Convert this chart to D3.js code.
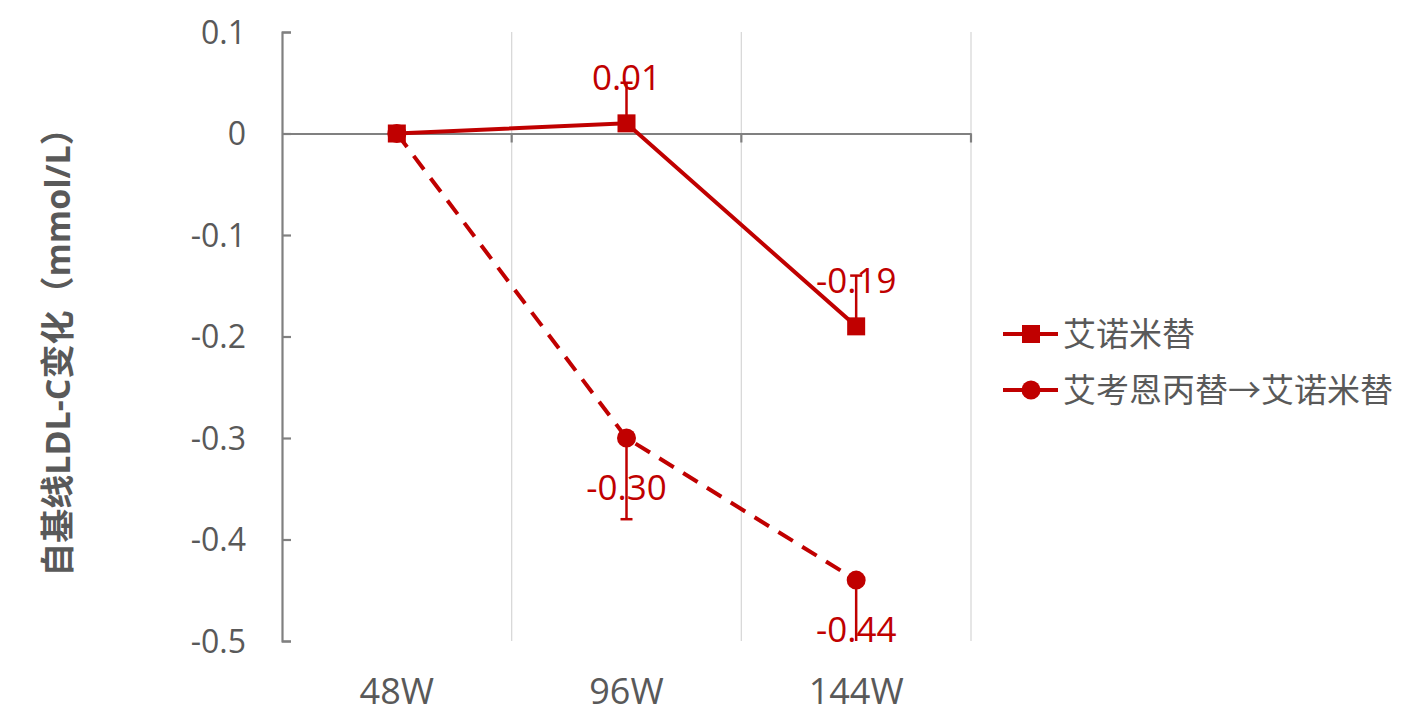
<!DOCTYPE html>
<html><head><meta charset="utf-8">
<script src="https://cdn.jsdelivr.net/npm/d3@7"></script>
<style>body{margin:0;background:#fff;} svg{display:block;}</style>
</head><body>
<svg id="c" width="1418" height="723"></svg>
<script>
const categories = ["48W", "96W", "144W"];
const seriesNames = ["艾诺米替", "艾考恩丙替→艾诺米替"];
const seriesA = [0, 0.01, -0.19];
const seriesB = [0, -0.30, -0.44];
const errA = [null, 0.04, 0.05];   // plus direction
const errB = [null, 0.08, 0.07];   // minus direction
const labelsA = [null, "0.01", "-0.19"];
const labelsB = [null, "-0.30", "-0.44"];
const yTicks = [0.1, 0, -0.1, -0.2, -0.3, -0.4, -0.5];
const yTickLabels = ["0.1", "0", "-0.1", "-0.2", "-0.3", "-0.4", "-0.5"];
const yTitle = "自基线LDL-C变化（mmol/L）";

const svg = d3.select("#c");
const red = "#C00000", gray = "#595959", axisC = "#808080";
const font = "'Open Sans','Noto Sans CJK SC',sans-serif";
const L = 282, R = 971, T = 32, B = 641;
const x = d3.scaleBand().domain(categories).range([L, R]);
const y = d3.scaleLinear().domain([-0.5, 0.1]).range([B, T]);
const cx = c => x(c) + x.bandwidth() / 2;

// vertical gridlines
svg.append("g").selectAll("line").data(categories).join("line")
  .attr("x1", c => x(c) + x.bandwidth()).attr("x2", c => x(c) + x.bandwidth())
  .attr("y1", T).attr("y2", B).attr("stroke", "#d9d9d9").attr("stroke-width", 1.3);

// y axis
const yAxis = d3.axisRight(y).tickValues(yTicks).tickSize(9).tickFormat("");
const ya = svg.append("g").attr("transform", `translate(${L},0)`).call(yAxis);
ya.select(".domain").attr("stroke", axisC).attr("stroke-width", 2.2);
ya.selectAll(".tick line").attr("stroke", axisC).attr("stroke-width", 2.2);
svg.append("g").selectAll("text").data(yTicks).join("text")
  .attr("x", 246).attr("y", d => y(d)).attr("dy", "0.36em")
  .attr("text-anchor", "end").attr("fill", gray)
  .style("font-family", font).style("font-size", "32px")
  .text((d, i) => yTickLabels[i]);

// x axis along y=0
const xa = svg.append("g").attr("transform", `translate(0,${y(0)})`)
  .call(d3.axisBottom(x).tickSize(0).tickFormat(""));
xa.select(".domain").attr("stroke", axisC).attr("stroke-width", 2.2);
svg.append("g").selectAll("line").data(categories).join("line")
  .attr("x1", c => x(c) + x.bandwidth()).attr("x2", c => x(c) + x.bandwidth())
  .attr("y1", y(0)).attr("y2", y(0) + 9).attr("stroke", axisC).attr("stroke-width", 2.2);
svg.append("g").selectAll("text").data(categories).join("text")
  .attr("x", c => cx(c)).attr("y", 691).attr("dy", "0.36em")
  .attr("text-anchor", "middle").attr("fill", gray)
  .style("font-family", font).style("font-size", "36px").text(c => c);

// y title
svg.append("text").attr("transform", `translate(58,344) rotate(-90)`)
  .attr("text-anchor", "middle").attr("dy", "0.36em").attr("fill", gray)
  .style("font-family", font).style("font-size", "34px").style("font-weight", "bold")
  .text(yTitle);

const line = d3.line().x((d, i) => cx(categories[i])).y(d => y(d));

// error bars
function errBars(vals, errs, dir) {
  const g = svg.append("g");
  vals.forEach((v, i) => {
    if (errs[i] == null) return;
    const e = Math.max(y.domain()[0], v + dir * errs[i]);
    const xx = cx(categories[i]);
    g.append("line").attr("x1", xx).attr("x2", xx).attr("y1", y(v)).attr("y2", y(e))
      .attr("stroke", red).attr("stroke-width", 2.5);
    if (v + dir * errs[i] >= y.domain()[0])
      g.append("line").attr("x1", xx - 6).attr("x2", xx + 6).attr("y1", y(e)).attr("y2", y(e))
        .attr("stroke", red).attr("stroke-width", 2.5);
  });
}

// series B (dashed, circles)
svg.append("path").datum(seriesB).attr("d", line).attr("fill", "none")
  .attr("stroke", red).attr("stroke-width", 4).attr("stroke-dasharray", "17,11");
errBars(seriesB, errB, -1);
svg.append("g").selectAll("circle").data(seriesB).join("circle")
  .attr("cx", (d, i) => cx(categories[i])).attr("cy", d => y(d)).attr("r", 9.5).attr("fill", red);

// series A (solid, squares)
svg.append("path").datum(seriesA).attr("d", line).attr("fill", "none")
  .attr("stroke", red).attr("stroke-width", 4);
errBars(seriesA, errA, 1);
svg.append("g").selectAll("rect").data(seriesA).join("rect")
  .attr("x", (d, i) => cx(categories[i]) - 9).attr("y", d => y(d) - 9)
  .attr("width", 18).attr("height", 18).attr("fill", red);

// data labels
function labels(vals, labs, off) {
  svg.append("g").selectAll("text").data(vals).join("text")
    .attr("x", (d, i) => cx(categories[i])).attr("y", d => y(d) + off)
    .attr("dy", "0.36em").attr("text-anchor", "middle").attr("fill", red)
    .style("font-family", font).style("font-size", "35px")
    .text((d, i) => labs[i] || "");
}
labels(seriesA, labelsA, -46);
labels(seriesB, labelsB, 49);

// legend
const lg = svg.append("g");
[0, 1].forEach(k => {
  const ly = k === 0 ? 334 : 390;
  lg.append("line").attr("x1", 1003).attr("x2", 1058).attr("y1", ly).attr("y2", ly)
    .attr("stroke", red).attr("stroke-width", 4);
  if (k === 0) lg.append("rect").attr("x", 1022).attr("y", ly - 9).attr("width", 18).attr("height", 18).attr("fill", red);
  else lg.append("circle").attr("cx", 1031).attr("cy", ly).attr("r", 9.5).attr("fill", red);
  lg.append("text").attr("x", 1063).attr("y", ly).attr("dy", "0.36em").attr("fill", gray)
    .style("font-family", font).style("font-size", "33px").text(seriesNames[k]);
});
</script>
</body></html>
